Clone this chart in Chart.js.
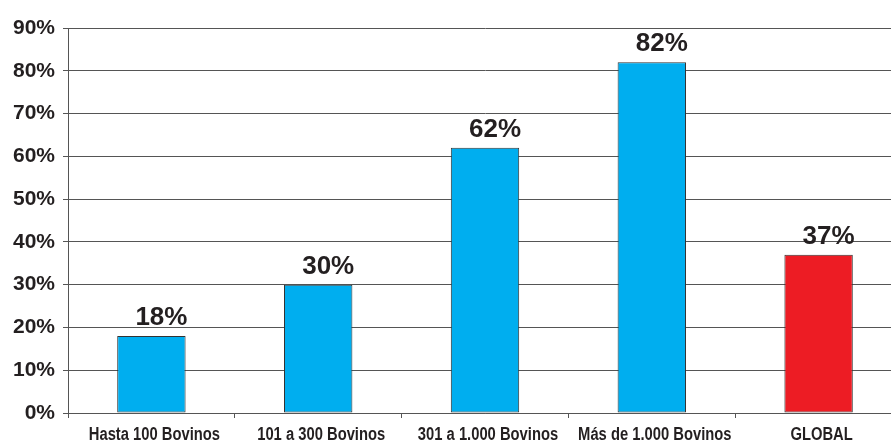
<!DOCTYPE html>
<html>
<head>
<meta charset="utf-8">
<script src="https://cdn.jsdelivr.net/npm/chart.js@4/dist/chart.umd.min.js"></script>
<style>
  html, body { margin: 0; padding: 0; background: #fff; }
  #wrap { width: 891px; height: 441px; overflow: hidden; position: relative; }
  canvas { position: absolute; left: 0; top: 0; }
</style>
</head>
<body>
<div id="wrap">
  <canvas id="chart" width="905" height="452"></canvas>
</div>
<script>
// data
var categories = ['Hasta 100 Bovinos', '101 a 300 Bovinos', '301 a 1.000 Bovinos', 'Más de 1.000 Bovinos', 'GLOBAL'];
var values = [18, 30, 62, 82, 37];
var barColors = ['#00aeef', '#00aeef', '#00aeef', '#00aeef', '#ed1c24'];
var yTicks = [0, 10, 20, 30, 40, 50, 60, 70, 80, 90];

var textColor = '#231f20';
var gridColor = '#555555';

// draws the "xx%" over each bar (sits a bit right of centre, like the original)
var valueLabels = {
  id: 'valueLabels',
  afterDatasetsDraw: function(chart) {
    var ctx = chart.ctx;
    var meta = chart.getDatasetMeta(0);
    ctx.save();
    ctx.font = 'bold 26px "Liberation Sans", Arial, sans-serif';
    ctx.fillStyle = textColor;
    ctx.textAlign = 'center';
    ctx.textBaseline = 'alphabetic';
    meta.data.forEach(function(bar, i) {
      ctx.fillText(values[i] + '%', bar.x + 10, bar.y - 11);
    });
    ctx.restore();
  }
};

// category names in a condensed bold face (no narrow font installed, so squeeze it)
var narrowLabels = {
  id: 'narrowLabels',
  afterDraw: function(chart) {
    var ctx = chart.ctx;
    var xs = chart.scales.x;
    ctx.save();
    ctx.font = 'bold 18px "Liberation Sans", Arial, sans-serif';
    ctx.fillStyle = textColor;
    ctx.textAlign = 'center';
    ctx.textBaseline = 'alphabetic';
    categories.forEach(function(c, i) {
      var x = xs.getPixelForTick(i) + 3;
      ctx.save();
      ctx.translate(x, 440);
      ctx.scale(0.82, 1);
      ctx.fillText(c, 0, 0);
      ctx.restore();
    });
    ctx.restore();
  }
};

new Chart(document.getElementById('chart').getContext('2d'), {
  type: 'bar',
  data: {
    labels: categories,
    datasets: [{
      data: values,
      backgroundColor: barColors,
      borderColor: '#333333',
      borderWidth: 1,
      borderSkipped: false,
      barPercentage: 0.41,
      categoryPercentage: 1
    }]
  },
  options: {
    responsive: false,
    animation: false,
    layout: { padding: { top: 28, right: 3, left: 0, bottom: 0 } },
    plugins: {
      legend: { display: false },
      tooltip: { enabled: false }
    },
    scales: {
      x: {
        afterFit: function(s) { s.height = 452 - 413; },
        grid: {
          drawOnChartArea: false,
          drawTicks: true,
          tickLength: 5,
          color: gridColor
        },
        border: { color: gridColor, width: 1 },
        ticks: { display: false }
      },
      y: {
        min: 0,
        max: 90,
        afterFit: function(s) { s.width = 68; },
        afterBuildTicks: function(s) {
          s.ticks = yTicks.map(function(v) { return { value: v }; });
        },
        grid: {
          color: gridColor,
          tickLength: 5
        },
        border: { color: gridColor, width: 1 },
        ticks: {
          color: textColor,
          padding: 8,
          font: { family: '"Liberation Sans", Arial, sans-serif', size: 21, weight: 'bold' },
          callback: function(v) { return v + '%'; }
        }
      }
    }
  },
  plugins: [valueLabels, narrowLabels]
});
</script>
</body>
</html>
